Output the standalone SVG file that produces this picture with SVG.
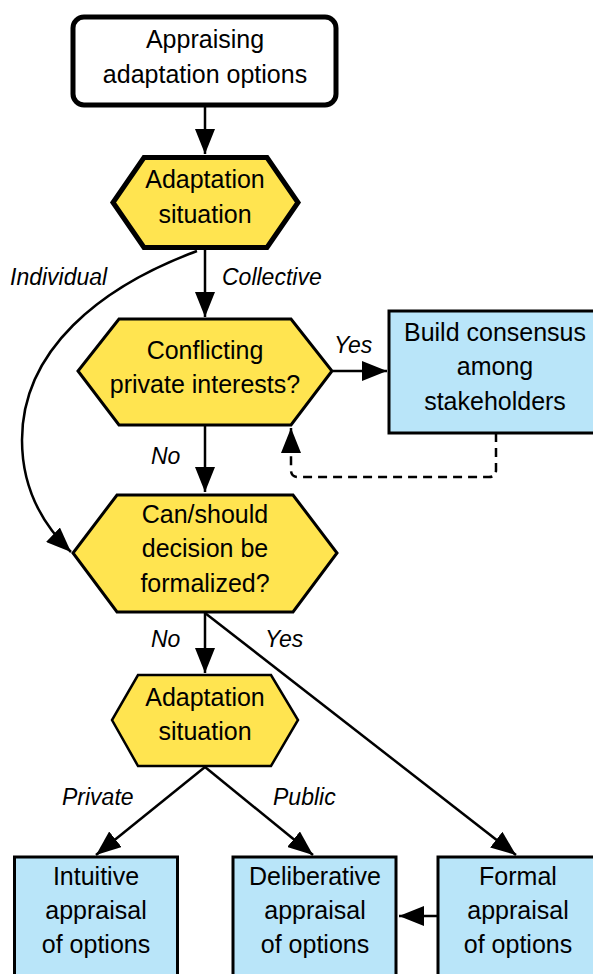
<svg xmlns="http://www.w3.org/2000/svg" width="593" height="974" viewBox="0 0 593 974">
<defs>
<style>
.t{font-family:"Liberation Sans",Arial,sans-serif;font-size:25px;fill:#000;text-anchor:middle}
.l{font-family:"Liberation Sans",Arial,sans-serif;font-size:23px;font-style:italic;fill:#000}
.hex{fill:#FFE450;stroke:#000;stroke-linejoin:miter}
.box{fill:#B9E5F9;stroke:#000;stroke-width:3}
.c{fill:none;stroke:#000;stroke-width:2.5}
</style>
<marker id="ah" markerUnits="userSpaceOnUse" markerWidth="26" markerHeight="20" refX="25" refY="10" orient="auto">
<path d="M0,0 L25,10 L0,20 Z" fill="#000"/>
</marker>
</defs>
<rect width="593" height="974" fill="#fff"/>
<g id="connectors">
<path class="c" d="M205,107 L205,154" marker-end="url(#ah)"/>
<path class="c" d="M205,250 L205,317" marker-end="url(#ah)"/>
<path class="c" d="M333,371 L387,371" marker-end="url(#ah)"/>
<path class="c" d="M496,433 L496,470 Q496,477 489,477 L298,477 Q291,477 291,470 L291,428" stroke-dasharray="9,6" marker-end="url(#ah)"/>
<path class="c" d="M205,426 L205,492" marker-end="url(#ah)"/>
<path class="c" d="M197,251 C100,287 22,350 22,440 C22,490 45,527 71,552" marker-end="url(#ah)"/>
<path class="c" d="M205,613 L205,673" marker-end="url(#ah)"/>
<path class="c" d="M205,613 L516,855" marker-end="url(#ah)"/>
<path class="c" d="M205,767 L96,855" marker-end="url(#ah)"/>
<path class="c" d="M205,767 L313,855" marker-end="url(#ah)"/>
<path class="c" d="M437,916 L399,916" marker-end="url(#ah)"/>
</g>
<g id="labels">
<text class="l" x="10" y="285">Individual</text>
<text class="l" x="222" y="285">Collective</text>
<text class="l" x="334" y="353">Yes</text>
<text class="l" x="151" y="464">No</text>
<text class="l" x="151" y="647">No</text>
<text class="l" x="265" y="647">Yes</text>
<text class="l" x="62" y="805">Private</text>
<text class="l" x="273" y="805">Public</text>
</g>
<g id="start">
<rect x="73" y="17" width="263" height="88" rx="11" fill="#fff" stroke="#000" stroke-width="5"/>
<text class="t" x="205" y="48">Appraising</text>
<text class="t" x="205" y="83">adaptation options</text>
</g>
<g id="situation1">
<polygon class="hex" stroke-width="5" points="144,157.5 267,157.5 298,202.5 267,247.5 144,247.5 113,202.5"/>
<text class="t" x="205" y="188">Adaptation</text>
<text class="t" x="205" y="223">situation</text>
</g>
<g id="conflicting">
<polygon class="hex" stroke-width="3" points="119,319 291,319 332,371 291,425 119,425 78,371"/>
<text class="t" x="205" y="359">Conflicting</text>
<text class="t" x="205" y="393">private interests?</text>
</g>
<g id="consensus">
<rect class="box" x="389" y="311" width="215" height="122"/>
<text class="t" x="495" y="341">Build consensus</text>
<text class="t" x="495" y="375">among</text>
<text class="t" x="495" y="410">stakeholders</text>
</g>
<g id="formalize">
<polygon class="hex" stroke-width="3" points="117,495 293,495 337,553 293,612 117,612 73,553"/>
<text class="t" x="205" y="523">Can/should</text>
<text class="t" x="205" y="557">decision be</text>
<text class="t" x="205" y="592">formalized?</text>
</g>
<g id="situation2">
<polygon class="hex" stroke-width="2.5" points="138,675 271,675 298,720 271,766 138,766 112,720"/>
<text class="t" x="205" y="706">Adaptation</text>
<text class="t" x="205" y="740">situation</text>
</g>
<g id="intuitive">
<rect class="box" x="14.5" y="857" width="163" height="130"/>
<text class="t" x="96" y="885">Intuitive</text>
<text class="t" x="96" y="919">appraisal</text>
<text class="t" x="96" y="953">of options</text>
</g>
<g id="deliberative">
<rect class="box" x="233" y="857" width="163" height="130"/>
<text class="t" x="315" y="885">Deliberative</text>
<text class="t" x="315" y="919">appraisal</text>
<text class="t" x="315" y="953">of options</text>
</g>
<g id="formal">
<rect class="box" x="438" y="857" width="170" height="130"/>
<text class="t" x="518" y="885">Formal</text>
<text class="t" x="518" y="919">appraisal</text>
<text class="t" x="518" y="953">of options</text>
</g>
</svg>
